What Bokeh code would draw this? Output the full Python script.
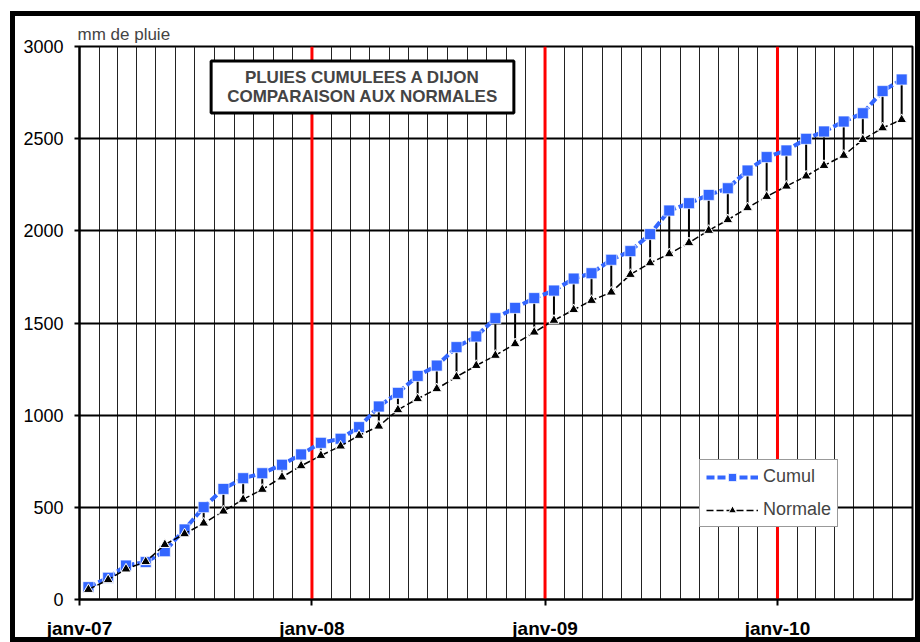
import pandas as pd
from bokeh.plotting import figure
from bokeh.models import FixedTicker, Span, Label, Legend, LegendItem, Range1d
from bokeh.embed import file_html
from bokeh.resources import INLINE

# ---- data -------------------------------------------------------------
months = pd.date_range("2007-01-01", periods=43, freq="MS")   # janv-07 .. juil-10
cumul = [67, 118, 184, 203, 262, 380, 501, 600, 658, 685, 731, 787,
         850, 872, 935, 1047, 1121, 1213, 1269, 1369, 1427, 1526, 1582, 1635,
         1676, 1741, 1770, 1843, 1890, 1982, 2110, 2150, 2195, 2231, 2327, 2400,
         2436, 2499, 2539, 2593, 2638, 2758, 2821]
normale = [54, 107, 165, 205, 298, 356, 414, 479, 543, 597, 664, 725,
           781, 832, 890, 940, 1029, 1089, 1143, 1208, 1269, 1324, 1387, 1450,
           1514, 1572, 1622, 1667, 1763, 1826, 1875, 1935, 2002, 2060, 2125, 2186,
           2242, 2297, 2354, 2409, 2495, 2558, 2603]
year_ticks = ["2007-01-01", "2008-01-01", "2009-01-01", "2010-01-01"]
year_labels = ["janv-07", "janv-08", "janv-09", "janv-10"]
y_ticks = [0, 500, 1000, 1500, 2000, 2500, 3000]

# ---- helpers ----------------------------------------------------------
origin = pd.Timestamp("2007-01-01")
def day(ts):
    return float((pd.Timestamp(ts) - origin).days)

x = [day(m) + 14 for m in months]                       # mid-month points
month_starts = [day(m) for m in pd.date_range("2007-02-01", "2010-07-01", freq="MS")]
year_pos = [day(t) for t in year_ticks]

FONT = "Liberation Sans"
BLUE = "#3366ff"

# canvas is laid out at the full width/height; the 5px CSS border overlaps
# its right/bottom edge, hence the larger right/bottom borders
p = figure(width=910, height=631, output_backend="svg", toolbar_location=None,
           x_range=Range1d(0, day("2010-08-01")), y_range=Range1d(0, 3000),
           min_border_left=64, min_border_right=13, min_border_top=30,
           min_border_bottom=48, background_fill_color="white",
           border_fill_color="white", title="mm de pluie")
p.styles = {"border": "5px solid black",
            "margin-left": "10px", "margin-top": "11px"}

p.title.text_font = FONT
p.title.text_font_size = "17px"
p.title.text_font_style = "normal"
p.title.align = "left"
p.title.offset = -2
p.title.standoff = 5

p.outline_line_color = "black"
p.outline_line_width = 2

# grids
p.xgrid.ticker = FixedTicker(ticks=month_starts)
p.xgrid.grid_line_color = "#222222"
p.xgrid.grid_line_width = 1
p.ygrid.ticker = FixedTicker(ticks=y_ticks)
p.ygrid.grid_line_color = "black"
p.ygrid.grid_line_width = 2

for loc in year_pos[1:]:
    p.add_layout(Span(location=loc, dimension="height", line_color="#ff0000",
                      line_width=3, level="underlay"))

# axes
p.xaxis.ticker = FixedTicker(ticks=year_pos, minor_ticks=[])
p.xaxis.major_label_overrides = {v: t for v, t in zip(year_pos, year_labels)}
p.xaxis.major_label_text_font = FONT
p.xaxis.major_label_text_font_size = "19px"
p.xaxis.major_label_text_font_style = "bold"
p.xaxis.major_label_text_color = "black"
p.xaxis.major_label_standoff = 12
p.xaxis.major_tick_out = 6
p.xaxis.major_tick_in = 0
p.xaxis.major_tick_line_width = 2
p.xaxis.axis_line_width = 2

p.yaxis.ticker = FixedTicker(ticks=y_ticks, minor_ticks=[])
p.yaxis.major_label_text_font = FONT
p.yaxis.major_label_text_font_size = "18px"
p.yaxis.major_label_text_color = "black"
p.yaxis.major_label_standoff = 11
p.yaxis.major_tick_out = 5
p.yaxis.major_tick_in = 0
p.yaxis.major_tick_line_width = 2
p.yaxis.axis_line_width = 2

# glyphs
p.segment(x, normale, x, cumul, line_color="black", line_width=2)
c_line = p.line(x, cumul, line_color=BLUE, line_width=4, line_dash="8 3")
c_pts = p.scatter(x, cumul, marker="square", size=11, fill_color=BLUE,
                  line_color="white", line_alpha=0.7, line_width=1)
n_line = p.line(x, normale, line_color="black", line_width=1.5, line_dash="7 3")
n_pts = p.scatter(x, normale, marker="triangle", size=10, fill_color="black",
                  line_color="white", line_width=1)

legend = Legend(items=[LegendItem(label="Cumul", renderers=[c_line, c_pts]),
                       LegendItem(label="Normale", renderers=[n_line, n_pts])],
                location=(620, 72), label_text_font=FONT,
                label_text_font_size="18px", label_standoff=5,
                glyph_width=52, glyph_height=20, label_height=20,
                padding=6, spacing=12, margin=0,
                border_line_color="#333333", border_line_width=1,
                background_fill_color="white", background_fill_alpha=1)
p.add_layout(legend, "center")

title_box = Label(x=283, y=512.5, x_units="screen", y_units="screen",
                  text="PLUIES CUMULEES A DIJON\nCOMPARAISON AUX NORMALES",
                  text_font=FONT, text_font_size="17px", text_font_style="bold",
                  text_align="center", text_baseline="middle", text_line_height=1.0,
                  border_line_color="black", border_line_width=3,
                  background_fill_color="white",
                  padding=dict(left=16, right=16, top=7, bottom=7))
p.add_layout(title_box)

open("out.html", "w").write(file_html(p, INLINE))
